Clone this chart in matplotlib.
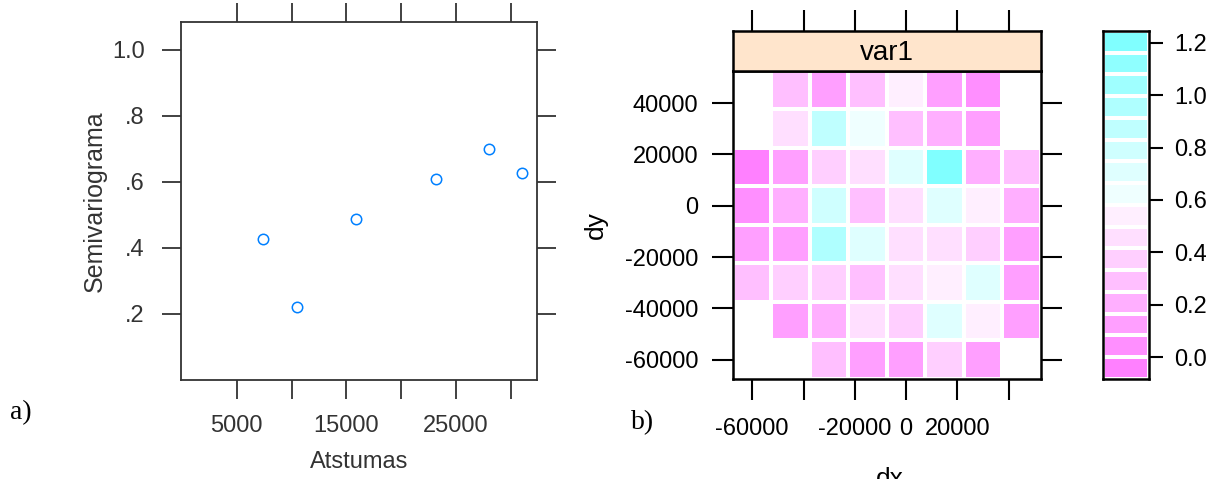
import numpy as np
import matplotlib
matplotlib.use("Agg")
import matplotlib.pyplot as plt
from matplotlib.colors import ListedColormap, BoundaryNorm, hsv_to_rgb

plt.rcParams['font.family'] = ['Liberation Sans', 'DejaVu Sans']
plt.rcParams['axes.unicode_minus'] = False

# a) empirinis semivariogramas
atstumas = [7357, 10497, 15847, 23214, 28011, 31004]
gamma = [0.427, 0.221, 0.488, 0.609, 0.700, 0.627]
a_xticks = [5000, 10000, 15000, 20000, 25000, 30000]
a_xlabels = ['5000', '', '15000', '', '25000', '']
a_yticks = [0.2, 0.4, 0.6, 0.8, 1.0]
a_ylabels = ['.2', '.4', '.6', '.8', '1.0']

# b) variogramos zemelapis (eilutes is virsaus i apacia)
dx_centers = [-60000, -45000, -30000, -15000, 0, 15000, 30000, 45000]
dy_centers = [45000, 30000, 15000, 0, -15000, -30000, -45000, -60000]
nan = np.nan
var1 = [
    [nan, 0.29, 0.13, 0.29, 0.54, 0.13, 0.04, nan],
    [nan, 0.46, 0.87, 0.62, 0.29, 0.21, 0.13, nan],
    [-0.04, 0.13, 0.37, 0.46, 0.71, 1.20, 0.21, 0.29],
    [0.04, 0.21, 0.79, 0.29, 0.46, 0.71, 0.54, 0.21],
    [0.13, 0.13, 0.95, 0.71, 0.46, 0.46, 0.37, 0.13],
    [0.29, 0.37, 0.37, 0.29, 0.46, 0.54, 0.71, 0.13],
    [nan, 0.13, 0.21, 0.46, 0.37, 0.71, 0.54, 0.13],
    [nan, nan, 0.29, 0.13, 0.13, 0.37, 0.13, nan],
]
b_xticks = [-60000, -40000, -20000, 0, 20000, 40000]
b_xlabels = ['-60000', '', '-20000', '0', '20000', '']
b_yticks = [-60000, -40000, -20000, 0, 20000, 40000]
cb_ticks = [0.0, 0.2, 0.4, 0.6, 0.8, 1.0, 1.2]
zmin, zmax, nlev = -0.0828, 1.2446, 16

# rev(cm.colors(16)) kaip R
k = nlev // 2
cyan = [hsv_to_rgb((0.5, s, 1)) for s in np.linspace(0.5, 0.5 / k, k)]
mag = [hsv_to_rgb((10 / 12, s, 1)) for s in np.linspace(0, 0.5, k + 1)[1:]]
cols = (cyan + mag)[::-1]
levels = np.linspace(zmin, zmax, nlev + 1)
cmap = ListedColormap(cols)
norm = BoundaryNorm(levels, cmap.N)

fig = plt.figure(figsize=(12.22, 4.79), dpi=100)
grey = '#333333'

# ---- a)
ax = fig.add_axes([0.1481, 0.2067, 0.2913, 0.7474])
ax.plot(atstumas, gamma, 'o', ms=7.5, mfc='none', mec='#0080ff', mew=1.1)
ax.set_xlim(-100, 32400)
ax.set_ylim(0.0, 1.084)
ax.set_xticks(a_xticks)
ax.set_xticklabels(a_xlabels)
ax.set_yticks(a_yticks)
ax.set_yticklabels(a_ylabels)
ax.tick_params(direction='out', length=14, width=1.3, color=grey, labelcolor=grey,
               top=True, right=True, labelsize=17)
ax.tick_params(axis='x', pad=11)
ax.tick_params(axis='y', pad=12)
for s in ax.spines.values():
    s.set_color(grey)
    s.set_linewidth(1.3)
ax.set_xlabel('Atstumas', fontsize=17, color=grey, labelpad=10)
ax.set_ylabel('Semivariograma', fontsize=18, color=grey, labelpad=4)
fig.text(0.008, 0.125, 'a)', family='Liberation Serif', fontsize=20)

# ---- b)
axb = fig.add_axes([0.5998, 0.2088, 0.2520, 0.6430])
xe = np.arange(-67500, 52501, 15000)
ye = np.arange(52500, -67501, -15000)
axb.pcolormesh(xe, ye, np.ma.masked_invalid(np.array(var1)), cmap=cmap, norm=norm,
               edgecolors='white', linewidth=1.6)
axb.set_xlim(-67500, 52500)
axb.set_ylim(-67500, 52500)
axb.set_xticks(b_xticks)
axb.set_xticklabels(b_xlabels)
axb.set_yticks(b_yticks)
axb.tick_params(direction='out', length=15, width=1.5, right=True, labelsize=17)
axb.tick_params(axis='x', pad=13)
axb.tick_params(axis='y', pad=10)
for s in axb.spines.values():
    s.set_linewidth(1.8)
axb.set_ylabel('dy', fontsize=19, labelpad=12)
fig.text(0.7283, 0.025, 'dx', fontsize=19, ha='center', va='top')
fig.text(0.516, 0.105, 'b)', family='Liberation Serif', fontsize=20)

# strip
axs = fig.add_axes([0.5998, 0.8518, 0.2520, 0.0835])
axs.set_facecolor('#FFE5CC')
axs.set_xlim(-67500, 52500)
axs.set_xticks(b_xticks)
axs.set_yticks([])
axs.tick_params(axis='x', direction='out', length=15, width=1.5, bottom=False,
                top=True, labelbottom=False, labeltop=False)
for s in axs.spines.values():
    s.set_linewidth(1.8)
axs.text(0.5, 0.45, 'var1', transform=axs.transAxes, ha='center', va='center', fontsize=20)

# spalvu skale
axc = fig.add_axes([0.9026, 0.2088, 0.0376, 0.7265])
axc.pcolormesh([0, 1], levels, ((levels[:-1] + levels[1:]) / 2).reshape(-1, 1),
               cmap=cmap, norm=norm, edgecolors='white', linewidth=1.6)
axc.set_xlim(0, 1)
axc.set_ylim(zmin, zmax)
axc.set_xticks([])
axc.set_yticks(cb_ticks)
axc.set_yticklabels(['%.1f' % t for t in cb_ticks])
axc.yaxis.tick_right()
axc.tick_params(axis='y', direction='out', length=10, width=1.5, labelsize=17, pad=8)
for s in axc.spines.values():
    s.set_linewidth(1.8)

fig.savefig('out.png', dpi=100)
